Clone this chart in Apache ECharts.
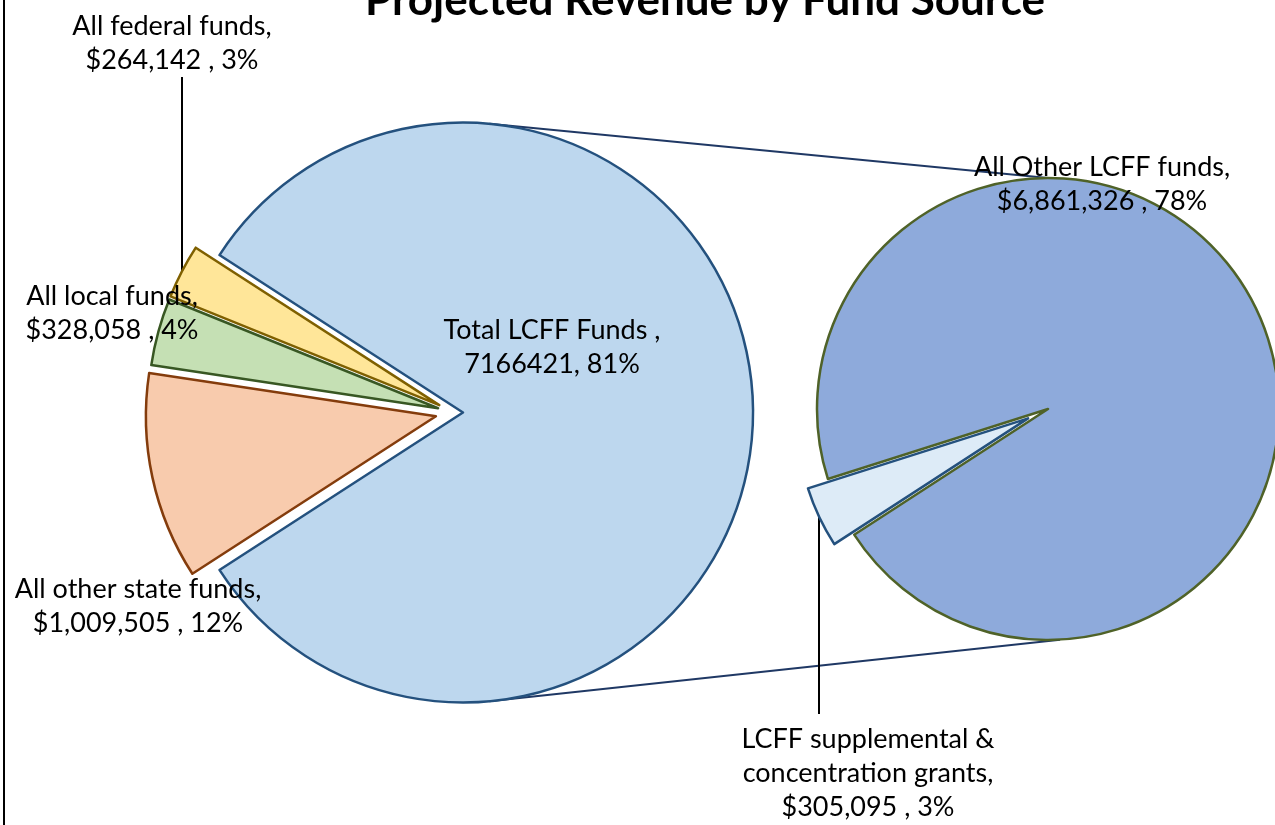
<!DOCTYPE html>
<html>
<head>
<meta charset="utf-8">
<title>Projected Revenue by Fund Source</title>
<script src="https://cdn.jsdelivr.net/npm/echarts@6/dist/echarts.min.js"></script>
<style>
  html, body { margin: 0; padding: 0; background: #fff; }
  #chart { width: 1275px; height: 825px; }
</style>
</head>
<body>
<div id="chart"></div>
<script>
// main pie: revenue by fund source
const mainNames = ['Total LCFF Funds ', 'All other state funds', 'All local funds', 'All federal funds'];
const mainValues = [7166421, 1009505, 328058, 264142];
const mainPct = [81, 12, 4, 3];

// second pie: split of Total LCFF Funds
const lcffNames = ['All Other LCFF funds', 'LCFF supplemental &\nconcentration grants'];
const lcffValues = [6861326, 305095];
const lcffPct = [78, 3];

const mainColors = ['#bdd7ee', '#f8cbad', '#c5e0b4', '#ffe699'];
const mainBorders = ['#24517e', '#843c0c', '#385723', '#7f6000'];
const lcffColors = ['#8eaadb', '#ddebf7'];
const lcffBorders = ['#4f6228', '#24517e'];

// layout, px
const mainCenter = [453.5, 412.5];
const mainRadius = 290;
const mainExplode = [9.5, 18, 16, 16];
const mainLabelPos = [[552, 347], [138, 606], [112, 313], [172, 43]];
const mainLeaderTo = [null, null, null, 77];

const lcffCenter = [1048, 409];
const lcffRadius = 231;
const lcffExplode = [0, 22];
const lcffSplitAngle = 205.3;
const lcffLabelPos = [[1102, 184], [868, 773]];
const lcffLeaderTo = [null, 714];

const labelFont = { color: '#000', fontFamily: 'Lato', fontSize: 27, lineHeight: 34 };

const sum = arr => arr.reduce((a, b) => a + b, 0);
const money = v => '$' + v.toLocaleString('en-US');

// one pie series per slice so every slice can be pulled out on its own
function pieSlices(id, names, values, colors, borders, center, radius, startAngle, explode, labelPos, leaderTo, text) {
  const total = sum(values);
  const out = [];
  let acc = 0;
  values.forEach((v, i) => {
    const deg = v / total * 360;
    const mid = (startAngle - acc - deg / 2) * Math.PI / 180;
    acc += deg;
    const cx = center[0] + explode[i] * Math.cos(mid);
    const cy = center[1] - explode[i] * Math.sin(mid);
    const rim = [cx + radius * Math.cos(mid), cy - radius * Math.sin(mid)];
    out.push({
      type: 'pie',
      id: id + i,
      center: [cx, cy],
      radius: radius,
      startAngle: startAngle,
      clockwise: true,
      avoidLabelOverlap: false,
      animation: false,
      emphasis: { disabled: true },
      data: values.map((val, j) => j === i ? {
        name: names[j], value: val,
        itemStyle: { color: colors[j], borderColor: borders[j], borderWidth: 2.5 },
        label: Object.assign({ show: true, position: 'outside', formatter: text(j) }, labelFont),
        labelLine: { show: leaderTo[j] != null, lineStyle: { color: '#000', width: 2 } }
      } : {
        name: names[j], value: val,
        itemStyle: { color: 'rgba(0,0,0,0)', borderWidth: 0 },
        label: { show: false }, labelLine: { show: false }
      }),
      labelLayout: function (p) {
        if (p.dataIndex !== i) return {};
        const res = { x: labelPos[i][0], y: labelPos[i][1], align: 'center', verticalAlign: 'middle' };
        if (leaderTo[i] != null) {
          const x = Math.round(rim[0]);
          res.labelLinePoints = [[x, rim[1]], [x, (rim[1] + leaderTo[i]) / 2], [x, leaderTo[i]]];
        }
        return res;
      }
    });
  });
  return out;
}

const mainSmall = sum(mainValues.slice(1)) / sum(mainValues) * 360;
const mainSeries = pieSlices('main', mainNames, mainValues, mainColors, mainBorders,
  mainCenter, mainRadius, 180 - mainSmall / 2, mainExplode, mainLabelPos, mainLeaderTo,
  j => j === 0
    ? mainNames[j] + ',\n' + mainValues[j] + ', ' + mainPct[j] + '%'
    : mainNames[j] + ',\n' + money(mainValues[j]) + ' , ' + mainPct[j] + '%');

const lcffSmall = lcffValues[1] / sum(lcffValues) * 360;
const lcffSeries = pieSlices('lcff', lcffNames, lcffValues, lcffColors, lcffBorders,
  lcffCenter, lcffRadius, lcffSplitAngle - lcffSmall / 2, lcffExplode, lcffLabelPos, lcffLeaderTo,
  j => lcffNames[j] + ',\n' + money(lcffValues[j]) + ' , ' + lcffPct[j] + '%');

// connector lines between the LCFF slice and the second pie
const bigC = [mainCenter[0] + mainExplode[0], mainCenter[1]];
const polar = (c, r, a) => [c[0] + r * Math.cos(a * Math.PI / 180), c[1] - r * Math.sin(a * Math.PI / 180)];
const t1 = polar(bigC, mainRadius, 84.8), t2 = polar(lcffCenter, lcffRadius, 90);
const b1 = polar(bigC, mainRadius, -84.8), b2 = polar(lcffCenter, lcffRadius, -87);

const chart = echarts.init(document.getElementById('chart'));
chart.setOption({
  backgroundColor: '#fff',
  animation: false,
  title: {
    text: 'Projected Revenue by Fund Source',
    left: 700,
    top: -26,
    textAlign: 'center',
    textStyle: { fontFamily: 'Lato', fontWeight: 'bold', fontSize: 44, color: '#000' }
  },
  graphic: [
    { type: 'line', z: 0, shape: { x1: 4, y1: 0, x2: 4, y2: 825 }, style: { stroke: '#000', lineWidth: 2 } },
    { type: 'line', z: 0, shape: { x1: t1[0], y1: t1[1], x2: t2[0], y2: t2[1] }, style: { stroke: '#1f3864', lineWidth: 2 } },
    { type: 'line', z: 0, shape: { x1: b1[0], y1: b1[1], x2: b2[0], y2: b2[1] }, style: { stroke: '#1f3864', lineWidth: 2 } }
  ],
  series: mainSeries.concat(lcffSeries)
});
</script>
</body>
</html>
